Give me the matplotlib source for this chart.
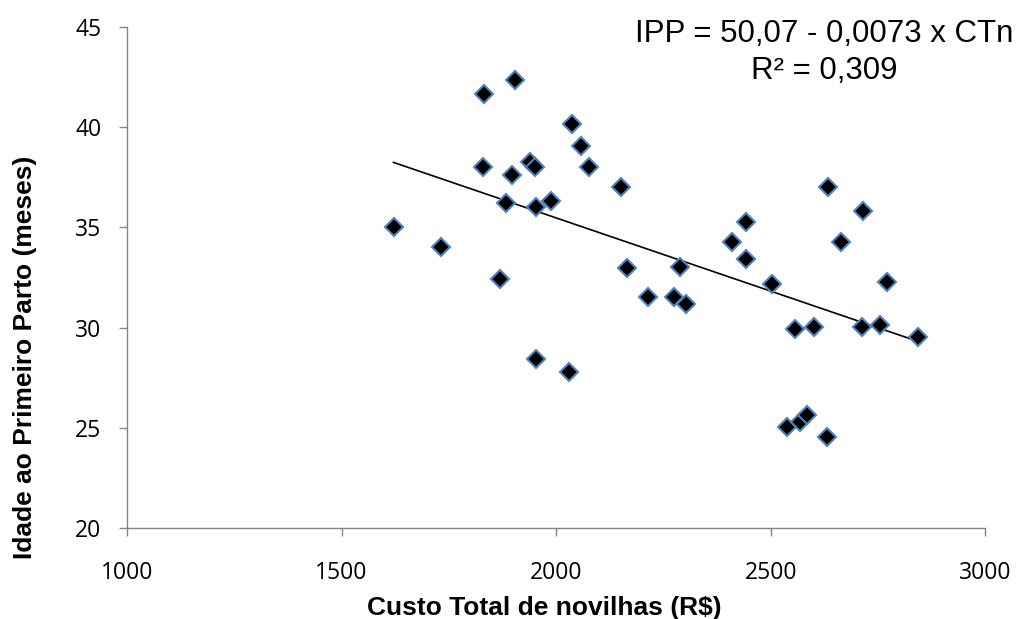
import matplotlib
matplotlib.use("Agg")
import matplotlib.pyplot as plt
import numpy as np

# Data
custo = [1904, 1832, 2037, 2058, 1829, 1940, 1950, 2077, 1898, 2152,
         1882, 1953, 1989, 1621, 1732, 1870, 2166, 2289, 2215, 2274,
         2303, 1953, 2029, 2633, 2716, 2442, 2409, 2663, 2442, 2502,
         2770, 2557, 2601, 2712, 2755, 2844, 2537, 2568, 2585, 2630]
ipp = [42.34, 41.65, 40.14, 39.05, 38.02, 38.27, 38.02, 38.02, 37.61, 37.03,
       36.23, 36.03, 36.33, 35.03, 34.00, 32.43, 32.97, 33.04, 31.51, 31.51,
       31.18, 28.44, 27.81, 37.00, 35.83, 35.28, 34.25, 34.28, 33.42, 32.16,
       32.29, 29.93, 30.02, 30.05, 30.13, 29.52, 25.03, 25.28, 25.65, 24.54]

intercept = 50.07
slope = -0.0073
eq_text = "IPP = 50,07 - 0,0073 x CTn"
r2_text = "R² = 0,309"

x_ticks = [1000, 1500, 2000, 2500, 3000]
y_ticks = [20, 25, 30, 35, 40, 45]
xlabel = "Custo Total de novilhas (R$)"
ylabel = "Idade ao Primeiro Parto (meses)"

W, H = 1021, 619
AX_L, AX_R, AX_T, AX_B = 127, 985.3, 26.7, 528.3
fig = plt.figure(figsize=(W / 100, H / 100), dpi=100)
ax = fig.add_axes([AX_L / W, 1 - AX_B / H, (AX_R - AX_L) / W, (AX_B - AX_T) / H])

# trend line over data range
xs = np.array([min(custo), max(custo)])
ax.plot(xs, intercept + slope * xs, color="black", lw=1.2, zorder=2)

ax.plot(custo, ipp, linestyle="none", marker="D", markersize=9.3,
        markerfacecolor="black", markeredgecolor="#4F81BD", markeredgewidth=1.5,
        zorder=3, clip_on=False)

ax.set_xlim(1000, 3000)
ax.set_ylim(20, 45)
ax.set_xticks(x_ticks)
ax.set_yticks(y_ticks)

for s in ["top", "right"]:
    ax.spines[s].set_visible(False)
for s in ["left", "bottom"]:
    ax.spines[s].set_color("#868686")
    ax.spines[s].set_linewidth(1.0)

ax.tick_params(direction="out", length=5.8, width=1.0, color="#868686",
               labelsize=16.5)
ax.tick_params(axis="x", pad=18)
ax.tick_params(axis="y", pad=12.5)
for lab in ax.get_xticklabels() + ax.get_yticklabels():
    lab.set_family("Open Sans")
    lab.set_color("black")

axw, axh = AX_R - AX_L, AX_B - AX_T
ax.set_xlabel(xlabel, fontsize=19, fontweight="bold", family="Liberation Sans")
ax.xaxis.set_label_coords((544.5 - AX_L) / axw, -(615.5 - AX_B) / axh)
ax.xaxis.label.set_va("baseline")
ax.xaxis.label.set_ha("center")

ax.set_ylabel(ylabel, fontsize=19, fontweight="bold", family="Liberation Sans",
              rotation=90, rotation_mode="anchor")
ax.yaxis.set_label_coords(-(AX_L - 31.7) / axw, (AX_B - 357.5) / axh)
ax.yaxis.label.set_va("baseline")
ax.yaxis.label.set_ha("center")

fig.text(824 / W, 1 - 41.7 / H, eq_text, ha="center", va="baseline",
         fontsize=22.5, family="Liberation Sans")
fig.text(824 / W, 1 - 79 / H, r2_text, ha="center", va="baseline",
         fontsize=22.5, family="Liberation Sans")

fig.savefig("out.png", dpi=100)
